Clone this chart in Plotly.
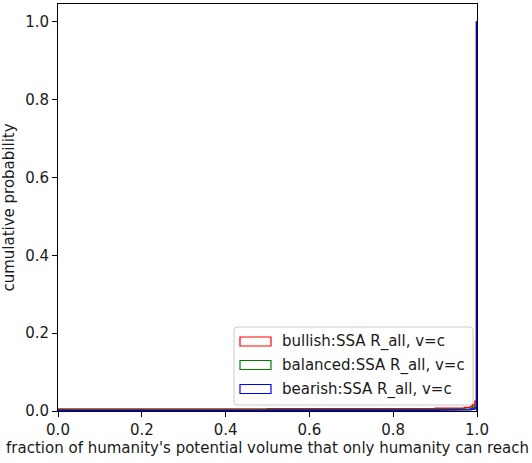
import plotly.graph_objects as go

# bin edges of the cumulative histograms
bin_edges = [0.0, 0.5, 0.9, 0.97, 0.985, 0.99, 0.995, 0.999, 1.0]

# cumulative probability per bin
bullish = [0.005, 0.006, 0.007, 0.009, 0.012, 0.016, 0.025, 1.0]
balanced = [0.003, 0.004, 0.004, 0.005, 0.007, 0.009, 0.013, 1.0]
bearish = [0.001, 0.002, 0.002, 0.003, 0.004, 0.005, 0.008, 1.0]

series_names = ["bullish:SSA R_all, v=c", "balanced:SSA R_all, v=c", "bearish:SSA R_all, v=c"]
series_values = [bullish, balanced, bearish]
colors = ["#ff0000", "#008000", "#0000ff"]

x_ticks = [0.0, 0.2, 0.4, 0.6, 0.8, 1.0]
y_ticks = [0.0, 0.2, 0.4, 0.6, 0.8, 1.0]


def step_outline(edges, vals):
    xs = [edges[0]]
    ys = [0.0]
    for i, v in enumerate(vals):
        xs += [edges[i], edges[i + 1]]
        ys += [v, v]
    xs.append(edges[-1])
    ys.append(0.0)
    return xs, ys


W, H = 532, 463
ML, MR, MT, MB = 58, 55, 4, 52
PW, PH = W - ML - MR, H - MT - MB


def px(xp):
    return (xp - ML) / PW


def py(yp):
    return (H - MB - yp) / PH


fig = go.Figure()
for name, vals, c in zip(series_names, series_values, colors):
    xs, ys = step_outline(bin_edges, vals)
    fig.add_trace(go.Scatter(
        x=xs, y=ys, mode="lines", name=name, showlegend=False,
        line=dict(color=c, width=1.5),
    ))

font = "DejaVu Sans, sans-serif"
FS = 15
TXT = "#1a1a1a"

# manual matplotlib-style legend
shapes = []
annotations = []
bx0, bx1, by0, by1, r = 234, 473, 327, 405, 3
path = (f"M {px(bx0 + r)},{py(by0)} L {px(bx1 - r)},{py(by0)} "
        f"Q {px(bx1)},{py(by0)} {px(bx1)},{py(by0 + r)} "
        f"L {px(bx1)},{py(by1 - r)} Q {px(bx1)},{py(by1)} {px(bx1 - r)},{py(by1)} "
        f"L {px(bx0 + r)},{py(by1)} Q {px(bx0)},{py(by1)} {px(bx0)},{py(by1 - r)} "
        f"L {px(bx0)},{py(by0 + r)} Q {px(bx0)},{py(by0)} {px(bx0 + r)},{py(by0)} Z")
shapes.append(dict(type="path", xref="paper", yref="paper", path=path,
                   line=dict(color="#cccccc", width=1), fillcolor="rgba(255,255,255,0.8)",
                   layer="above"))
row_y = [341.5, 365, 389]
for name, c, ry in zip(series_names, colors, row_y):
    shapes.append(dict(type="rect", xref="paper", yref="paper",
                       x0=px(240), x1=px(271), y0=py(ry - 4.5), y1=py(ry + 4.5),
                       line=dict(color=c, width=1.2), fillcolor="rgba(0,0,0,0)", layer="above"))
    annotations.append(dict(xref="paper", yref="paper", x=px(280), y=py(ry),
                            xanchor="left", yanchor="middle", showarrow=False, text=name,
                            font=dict(family=font, size=FS, color=TXT)))

axis_common = dict(
    showgrid=False, zeroline=False, showline=True, linecolor="black", linewidth=1,
    mirror=True, ticks="outside", ticklen=5, tickwidth=1, tickcolor="black",
    tickfont=dict(family=font, size=FS, color=TXT),
    tickformat=".1f",
)

fig.update_layout(
    width=W, height=H,
    margin=dict(l=ML, r=MR, t=MT, b=MB),
    paper_bgcolor="white", plot_bgcolor="white",
    font=dict(family=font, size=FS, color=TXT),
    showlegend=False,
    shapes=shapes,
    annotations=annotations,
    xaxis=dict(
        range=[0, 1], tickvals=x_ticks,
        title=dict(text="fraction of humanity's potential volume that only humanity can reach",
                   font=dict(family=font, size=FS, color=TXT), standoff=4),
        **axis_common,
    ),
    yaxis=dict(
        range=[0, 1.046], tickvals=y_ticks,
        title=dict(text="cumulative probability",
                   font=dict(family=font, size=FS, color=TXT), standoff=6),
        **axis_common,
    ),
)

fig.write_html("out.html", config={"displayModeBar": False},
               post_script="document.body.style.margin='0';document.body.style.overflow='hidden';")
